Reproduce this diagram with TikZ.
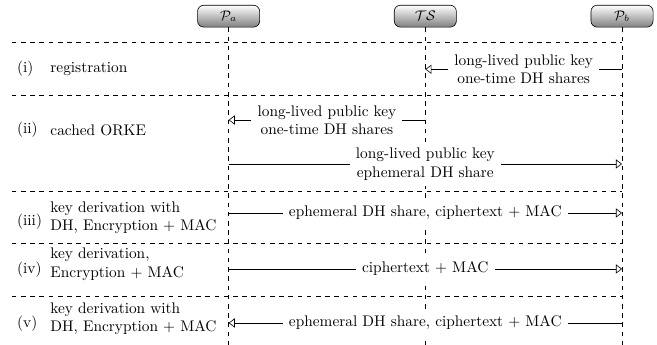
\documentclass[tikz,border=0pt]{standalone}
\usepackage{amsmath}
\usepackage{amssymb}
\usetikzlibrary{arrows.meta, positioning}

\begin{document}
\begin{tikzpicture}[
  >={Triangle[open, length=4pt, width=6pt]},
  party/.style={draw, rounded corners=4pt, top color=white, bottom color=black!50,
    minimum width=14.2mm, minimum height=5mm, font=\small},
  lifeline/.style={dashed},
  sep/.style={dashed},
  msg/.style={->},
  tag/.style={anchor=west},
  info/.style={anchor=west, align=left},
  payload/.style={fill=white, align=center, inner sep=4pt}
]
  \useasboundingbox (0,0) rectangle (15.03,-7.89);

  % parties
  \node[party] (Pa) at (5.23,-0.37) {$\mathcal{P}_a$};
  \node[party] (TS) at (9.73,-0.37) {$\mathcal{TS}$};
  \node[party] (Pb) at (14.23,-0.37) {$\mathcal{P}_b$};

  \coordinate (bot) at (0,-7.89);
  \draw[lifeline] (Pa) -- (Pa |- bot);
  \draw[lifeline] (TS) -- (TS |- bot);
  \draw[lifeline] (Pb) -- (Pb |- bot);

  % phase separators
  \coordinate (s1) at (0.27,-0.967);
  \coordinate (s2) at (0.27,-2.173);
  \coordinate (s3) at (0.27,-4.385);
  \coordinate (s4) at (0.27,-5.565);
  \coordinate (s5) at (0.27,-6.786);
  \draw[sep] (s1) -- (s1 -| Pb);
  \draw[sep] (s2) -- (s2 -| Pb);
  \draw[sep] (s3) -- (s3 -| Pb);
  \draw[sep] (s4) -- (s4 -| Pb);
  \draw[sep] (s5) -- (s5 -| Pb);

  % phase names
  \node[tag] (n1) at (0.27,-1.578) {(i)};
  \node[info] (l1) at (1.03,-1.578) {registration};
  \node[tag] (n2) at (0.27,-2.973) {(ii)};
  \node[info] (l2) at (1.03,-2.973) {cached ORKE};
  \node[tag] (n3) at (0.27,-5.071) {(iii)};
  \node[info] (l3) at (1.03,-4.975) {key derivation with\\DH, Encryption $+$ MAC};
  \node[tag] (n4) at (0.27,-6.176) {(iv)};
  \node[info] (l4) at (1.03,-6.05) {key derivation,\\Encryption $+$ MAC};
  \node[tag] (n5) at (0.27,-7.395) {(v)};
  \node[info] (l5) at (1.03,-7.297) {key derivation with\\DH, Encryption $+$ MAC};

  % messages
  \coordinate (m1) at (0,-1.585);
  \coordinate (m2) at (0,-2.745);
  \coordinate (m3) at (0,-3.751);
  \coordinate (m4) at (0,-4.872);
  \coordinate (m5) at (0,-6.153);
  \coordinate (m6) at (0,-7.388);
  \draw[msg] (m1 -| Pb) -- node[payload] {long-lived public key\\one-time DH shares} (m1 -| TS);
  \draw[msg] (m2 -| TS) -- node[payload] {long-lived public key\\one-time DH shares} (m2 -| Pa);
  \draw[msg] (m3 -| Pa) -- node[payload] {long-lived public key\\ephemeral DH share} (m3 -| Pb);
  \draw[msg] (m4 -| Pa) -- node[payload] {ephemeral DH share, ciphertext $+$ MAC} (m4 -| Pb);
  \draw[msg] (m5 -| Pa) -- node[payload] {ciphertext $+$ MAC} (m5 -| Pb);
  \draw[msg] (m6 -| Pb) -- node[payload] {ephemeral DH share, ciphertext $+$ MAC} (m6 -| Pa);
\end{tikzpicture}
\end{document}
